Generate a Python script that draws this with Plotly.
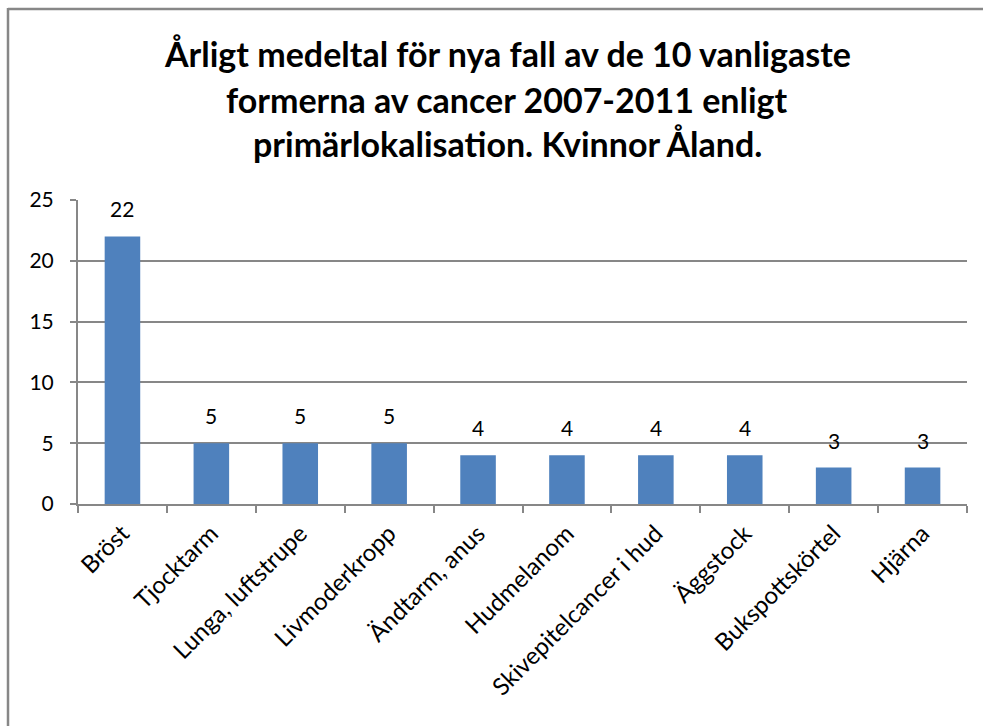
import plotly.graph_objects as go

categories = ["Bröst", "Tjocktarm", "Lunga, luftstrupe", "Livmoderkropp", "Ändtarm, anus",
              "Hudmelanom", "Skivepitelcancer i hud", "Äggstock", "Bukspottskörtel", "Hjärna"]
values = [22, 5, 5, 5, 4, 4, 4, 4, 3, 3]
y_ticks = [0, 5, 10, 15, 20, 25]

title_lines = ["Årligt medeltal för nya fall av de 10 vanligaste",
               "formerna av cancer 2007-2011 enligt",
               "primärlokalisation. Kvinnor Åland."]

FONT = "Lato"
GRID = "#878787"

L, R, T, B = 78, 16, 200, 222
W, H = 983, 726
pw, ph = W - L - R, H - T - B

fig = go.Figure(go.Bar(
    x=categories, y=values,
    marker=dict(color="#4F81BD", line=dict(width=0)),
    hoverinfo="x+y",
))

annotations = []
# data labels above bars
for c, v in zip(categories, values):
    annotations.append(dict(x=c, y=v, xref="x", yref="y", text=str(v), showarrow=False,
                            yanchor="bottom", yshift=13,
                            font=dict(family=FONT, size=21, color="black")))
# title lines (positions given in figure pixels, converted to paper coords)
title_centers_px = [54, 99, 143]
title_center_x_px = 507
for line, cy in zip(title_lines, title_centers_px):
    annotations.append(dict(x=(title_center_x_px - L) / pw, y=(H - B - cy) / ph,
                            xref="paper", yref="paper",
                            text=f"<b>{line}</b>", showarrow=False,
                            xanchor="center", yanchor="middle",
                            font=dict(family=FONT, size=34, color="black")))

fig.update_layout(
    width=W, height=H,
    margin=dict(l=L, r=R, t=T, b=B),
    paper_bgcolor="white", plot_bgcolor="white",
    bargap=0.6,
    showlegend=False,
    annotations=annotations,
    xaxis=dict(
        tickfont=dict(family=FONT, size=24, color="black"),
        tickangle=-45, showline=True, linecolor=GRID, linewidth=2,
        ticks="outside", tickson="boundaries", ticklen=7, tickcolor=GRID, tickwidth=2,
        ticklabelstandoff=4,
        showgrid=False,
    ),
    yaxis=dict(
        range=[0, 25], tickvals=y_ticks,
        tickfont=dict(family=FONT, size=21, color="black"),
        showline=True, linecolor=GRID, linewidth=2,
        ticks="outside", ticklen=6, tickcolor=GRID, tickwidth=2,
        ticklabelstandoff=12,
        showgrid=True, gridcolor=GRID, gridwidth=1.5, zeroline=False,
    ),
    shapes=[
        dict(type="line", xref="paper", yref="paper",
             x0=(8 - L) / pw, x1=(8 - L) / pw, y0=(H - B - 8) / ph, y1=(H - B - 740) / ph,
             line=dict(color=GRID, width=2.5)),
        dict(type="line", xref="paper", yref="paper",
             x0=(8 - L) / pw, x1=(1000 - L) / pw, y0=(H - B - 9) / ph, y1=(H - B - 9) / ph,
             line=dict(color=GRID, width=2.5)),
    ],
)

fig.write_html("out.html", config={"displayModeBar": False},
               post_script="document.body.style.margin='0';")
